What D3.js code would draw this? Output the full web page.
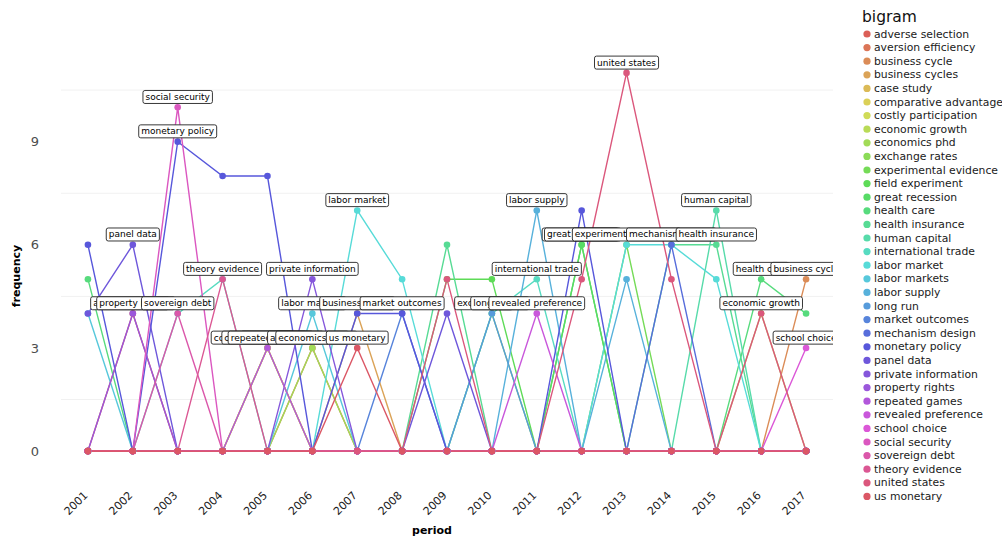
<!DOCTYPE html>
<html>
<head>
<meta charset="utf-8">
<script src="https://cdn.jsdelivr.net/npm/d3@7/dist/d3.min.js"></script>
<style>
  body { margin: 0; background: #fff; }
  text { font-family: "DejaVu Sans", sans-serif; }
</style>
</head>
<body>
<svg id="chart" width="1002" height="536"></svg>
<script>
var periods = ['2001','2002','2003','2004','2005','2006','2007','2008','2009',
               '2010','2011','2012','2013','2014','2015','2016','2017'];

var bigrams = ['adverse selection','aversion efficiency','business cycle','business cycles',
  'case study','comparative advantage','costly participation','economic growth',
  'economics phd','exchange rates','experimental evidence','field experiment',
  'great recession','health care','health insurance','human capital',
  'international trade','labor market','labor markets','labor supply','long run',
  'market outcomes','mechanism design','monetary policy','panel data',
  'private information','property rights','repeated games','revealed preference',
  'school choice','social security','sovereign debt','theory evidence',
  'united states','us monetary'];

// one row per bigram, one value per period (2001 .. 2017)
var frequency = [
  [0,4,0,0,0,0,0,0,0,0,0,0,0,0,0,0,0],   // adverse selection
  [0,0,0,0,0,3,0,0,0,0,0,0,0,0,0,0,0],   // aversion efficiency
  [0,0,0,0,0,0,0,0,0,0,0,0,0,0,0,0,5],   // business cycle
  [0,0,0,0,0,0,4,0,0,0,0,0,0,0,0,0,0],   // business cycles
  [0,0,0,0,3,0,0,0,0,0,0,0,0,0,0,0,0],   // case study
  [0,0,0,0,3,0,0,0,0,0,0,0,0,0,0,0,0],   // comparative advantage
  [0,0,0,0,3,0,0,0,0,0,0,0,0,0,0,0,0],   // costly participation
  [0,0,0,0,0,0,0,0,0,0,0,0,0,0,0,4,0],   // economic growth
  [0,0,0,0,0,3,0,0,0,0,0,0,0,0,0,0,0],   // economics phd
  [0,0,0,0,0,0,0,0,0,4,0,0,0,0,0,0,0],   // exchange rates
  [0,0,0,0,0,0,0,0,0,0,0,0,6,0,0,0,0],   // experimental evidence
  [0,0,0,0,0,0,0,0,5,5,0,6,0,0,0,0,0],   // field experiment
  [0,0,0,0,0,0,0,0,0,0,0,6,0,0,0,0,0],   // great recession
  [5,0,0,0,0,0,0,0,0,0,0,0,0,0,0,5,4],   // health care
  [0,0,0,0,0,0,0,0,6,0,0,0,0,6,6,0,0],   // health insurance
  [0,0,0,0,0,0,0,0,0,0,0,0,0,0,7,0,0],   // human capital
  [0,0,4,5,0,0,0,0,0,4,5,0,0,0,0,0,0],   // international trade
  [0,0,0,0,0,0,7,5,0,0,0,0,6,6,5,0,0],   // labor market
  [4,0,0,0,0,4,0,0,0,0,0,0,0,0,0,0,0],   // labor markets
  [0,0,0,0,0,0,0,0,0,0,7,0,5,0,0,0,0],   // labor supply
  [0,0,0,0,0,0,0,0,0,4,0,0,0,0,0,0,0],   // long run
  [0,0,0,0,0,0,0,4,0,0,0,0,0,0,0,0,0],   // market outcomes
  [0,0,0,0,0,0,0,0,0,0,0,0,0,6,0,0,0],   // mechanism design
  [6,0,9,8,8,0,4,4,0,0,0,7,0,0,0,0,0],   // monetary policy
  [4,6,0,0,0,0,0,0,4,0,0,0,0,0,0,0,0],   // panel data
  [0,0,0,0,0,5,0,0,0,0,0,0,0,0,0,0,0],   // private information
  [0,4,0,0,0,0,0,0,0,0,0,0,0,0,0,0,0],   // property rights
  [0,0,0,0,3,0,0,0,0,0,0,0,0,0,0,0,0],   // repeated games
  [0,0,0,0,0,0,0,0,0,0,4,0,0,0,0,0,0],   // revealed preference
  [0,0,0,0,0,0,0,0,0,0,0,0,0,0,0,0,3],   // school choice
  [0,0,10,0,0,0,0,0,0,0,0,0,0,0,0,0,0],  // social security
  [0,0,4,0,0,0,0,0,0,0,0,0,0,0,0,0,0],   // sovereign debt
  [0,0,0,5,0,0,0,0,0,0,0,0,0,0,0,0,0],   // theory evidence
  [0,0,0,0,0,0,0,0,5,0,0,5,11,5,0,4,0],  // united states
  [0,0,0,0,0,0,3,0,0,0,0,0,0,0,0,0,0]    // us monetary
];

var yTicks = [0, 3, 6, 9];
var yMinor = [1.5, 4.5, 7.5, 10.5];

var svg = d3.select('#chart');
var panel = {left: 61, right: 833, top: 54, bottom: 470};

svg.append('rect').attr('width', 1002).attr('height', 536).attr('fill', '#fff');

var x = d3.scalePoint().domain(periods)
    .range([panel.left, panel.right]).padding(0.6);
var y = d3.scaleLinear().domain([-0.55, 11.55])
    .range([panel.bottom, panel.top]);

function colorOf(i) {
    var h = ((i / bigrams.length + 0.01) % 1) * 360;
    return d3.hsl(h, 0.65, 0.6).formatHex();
}

// faint grid
svg.append('g').selectAll('line')
    .data(yMinor)
    .enter().append('line')
    .attr('x1', panel.left).attr('x2', panel.right)
    .attr('y1', function(d) { return y(d); })
    .attr('y2', function(d) { return y(d); })
    .attr('stroke', '#f1f1f1').attr('stroke-width', 1);

// axes
var yAxis = svg.append('g')
    .attr('transform', 'translate(' + panel.left + ',0)')
    .call(d3.axisLeft(y).tickValues(yTicks).tickSize(0).tickPadding(22));
yAxis.select('.domain').remove();
yAxis.selectAll('text')
    .attr('font-size', 13).attr('fill', '#4d4d4d')
    .attr('font-family', '"DejaVu Sans", sans-serif');

var xAxis = svg.append('g')
    .attr('transform', 'translate(0,' + panel.bottom + ')')
    .call(d3.axisBottom(x).tickSize(0));
xAxis.select('.domain').remove();
xAxis.selectAll('text')
    .attr('font-size', 11).attr('fill', '#222')
    .attr('font-family', '"DejaVu Sans", sans-serif')
    .attr('text-anchor', 'end')
    .attr('dy', 0).attr('y', 0)
    .attr('transform', 'translate(0,26) rotate(-45)');

svg.append('text')
    .attr('x', 432).attr('y', 534)
    .attr('text-anchor', 'middle')
    .attr('font-size', 11).attr('font-weight', 'bold')
    .text('period');

svg.append('text')
    .attr('transform', 'translate(20,276) rotate(-90)')
    .attr('text-anchor', 'middle')
    .attr('font-size', 11).attr('font-weight', 'bold')
    .text('frequency');

// lines, then points, then labels
var series = bigrams.map(function(b, i) {
    return {name: b, idx: i, values: frequency[i], color: colorOf(i)};
});

var line = d3.line()
    .x(function(d, j) { return x(periods[j]); })
    .y(function(d) { return y(d); });

svg.append('g').selectAll('path')
    .data(series)
    .enter().append('path')
    .attr('d', function(s) { return line(s.values); })
    .attr('fill', 'none')
    .attr('stroke', function(s) { return s.color; })
    .attr('stroke-width', 1.4);

var pg = svg.append('g');
series.forEach(function(s) {
    pg.selectAll(null)
        .data(s.values)
        .enter().append('circle')
        .attr('cx', function(d, j) { return x(periods[j]); })
        .attr('cy', function(d) { return y(d); })
        .attr('r', 3.3)
        .attr('fill', s.color);
});

// one label per bigram, at the last period holding its maximum
var labels = series.map(function(s) {
    var m = d3.max(s.values);
    var j = s.values.lastIndexOf(m);
    return {name: s.name, idx: s.idx, j: j, v: m};
});
labels.sort(function(a, b) { return a.j - b.j || a.idx - b.idx; });

svg.append('clipPath').attr('id', 'panelclip')
    .append('rect')
    .attr('x', panel.left).attr('y', 0)
    .attr('width', panel.right - panel.left).attr('height', panel.bottom);

var lg = svg.append('g').attr('clip-path', 'url(#panelclip)');
labels.forEach(function(l) {
    var cx = x(periods[l.j]);
    var cy = y(l.v + 0.3);
    var g = lg.append('g');
    var rect = g.append('rect');
    var t = g.append('text')
        .attr('x', cx).attr('y', cy)
        .attr('text-anchor', 'middle')
        .attr('dominant-baseline', 'central')
        .attr('font-size', 9)
        .attr('fill', '#000')
        .text(l.name);
    var w = t.node().getComputedTextLength() + 5;
    rect.attr('x', cx - w / 2).attr('y', cy - 6.5)
        .attr('width', w).attr('height', 13)
        .attr('rx', 2)
        .attr('fill', '#fff')
        .attr('stroke', '#222').attr('stroke-width', 0.9);
});

// legend
var legend = svg.append('g');
legend.append('text')
    .attr('x', 862).attr('y', 22)
    .attr('font-size', 15.5).attr('fill', '#111')
    .text('bigram');

var items = legend.selectAll('g.item')
    .data(series)
    .enter().append('g')
    .attr('class', 'item')
    .attr('transform', function(d, i) { return 'translate(0,' + (34 + i * 13.6) + ')'; });
items.append('circle')
    .attr('cx', 867).attr('cy', 0).attr('r', 3.6)
    .attr('fill', function(d) { return d.color; });
items.append('text')
    .attr('x', 874).attr('y', 0)
    .attr('dominant-baseline', 'central')
    .attr('font-size', 10.8).attr('fill', '#1a1a1a')
    .text(function(d) { return d.name; });
</script>
</body>
</html>
